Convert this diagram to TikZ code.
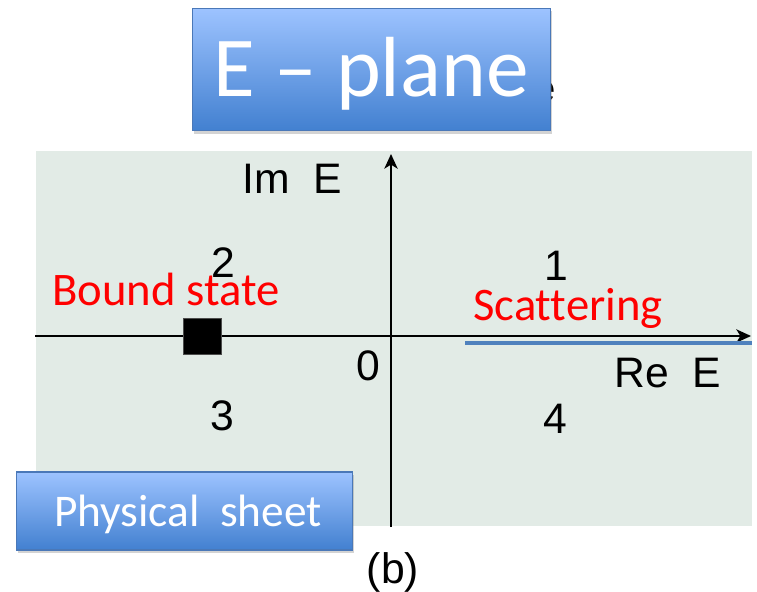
\documentclass[tikz,border=0pt]{standalone}
\usepackage{fontspec}
\setmainfont{Liberation Sans}
\newfontfamily\carlito{Carlito}[Ligatures=NoCommon]
\usetikzlibrary{arrows.meta, shadows}
\definecolor{planebg}{HTML}{E2EBE6}
\definecolor{boxtop}{HTML}{9DC3FF}
\definecolor{boxbottom}{HTML}{4280D0}
\definecolor{boxline}{HTML}{4A78B8}
\definecolor{cutblue}{HTML}{4F81BD}
\tikzset{
  sheetbox/.style={draw=boxline, line width=0.8pt, top color=boxtop, bottom color=boxbottom,
    drop shadow={opacity=0.35, shadow xshift=1pt, shadow yshift=-2.5pt}, inner sep=0pt},
  axislabel/.style={anchor=base, font=\fontsize{32}{38}\selectfont},
  redlabel/.style={anchor=base, text=red, font=\carlito\fontsize{35}{42}\selectfont},
  boxtext/.style={anchor=base, text=white},
  axis/.style={line width=1.2pt, -{Stealth[length=11pt, width=10pt, inset=3pt]}}
}

\begin{document}
\begin{tikzpicture}[x=0.75pt,y=-0.75pt]
    \useasboundingbox (0,0) rectangle (757,592);
    \fill[planebg] (36,151) rectangle (752,526);
    % axes
    \coordinate (west) at (35,336);
    \coordinate (east) at (751,336);
    \coordinate (south) at (391,527);
    \coordinate (north) at (391,154);
    \draw[axis] (west) -- (east);
    \draw[axis] (south) -- (north);
    % scattering cut and bound state
    \coordinate (cutstart) at (465,343);
    \coordinate (cutend) at (752,343);
    \draw[cutblue, line width=3.6pt] (cutstart) -- (cutend);
    \node[fill=black, draw=black!70, minimum width=28.5pt, minimum height=27pt, inner sep=0pt] (bound) at (202,336) {};
    % labels
    \node[axislabel] (imE) at (292,193) {Im\ \ E};
    \node[axislabel] (reE) at (668,387) {Re\ \ E};
    \node[axislabel] (origin) at (368,380) {0};
    \node[axislabel] (q1) at (556,280) {1};
    \node[axislabel] (q2) at (223,277) {2};
    \node[axislabel] (q3) at (222,430) {3};
    \node[axislabel] (q4) at (555,433) {4};
    \node[redlabel] (boundlabel) at (166,305) {Bound state};
    \node[redlabel] (scattlabel) at (568,320) {Scattering};
    \node[axislabel] (panel) at (393,583) {(b)};
    % boxes
    \node[axislabel, font=\fontsize{28}{34}\selectfont] (hidden) at (545,102) {e};
    \node[sheetbox, minimum width=269pt, minimum height=92pt] (title) at (371.5,69.5) {};
    \node[boxtext, font=\carlito\fontsize{64}{76}\selectfont] (titletext) at (371,97) {E – plane};
    \node[sheetbox, minimum width=252.5pt, minimum height=58.5pt] (sheet) at (184.5,511) {};
    \node[boxtext, font=\carlito\fontsize{34}{40}\selectfont] (sheettext) at (188,526) {Physical\ \ sheet};
\end{tikzpicture}
\end{document}
